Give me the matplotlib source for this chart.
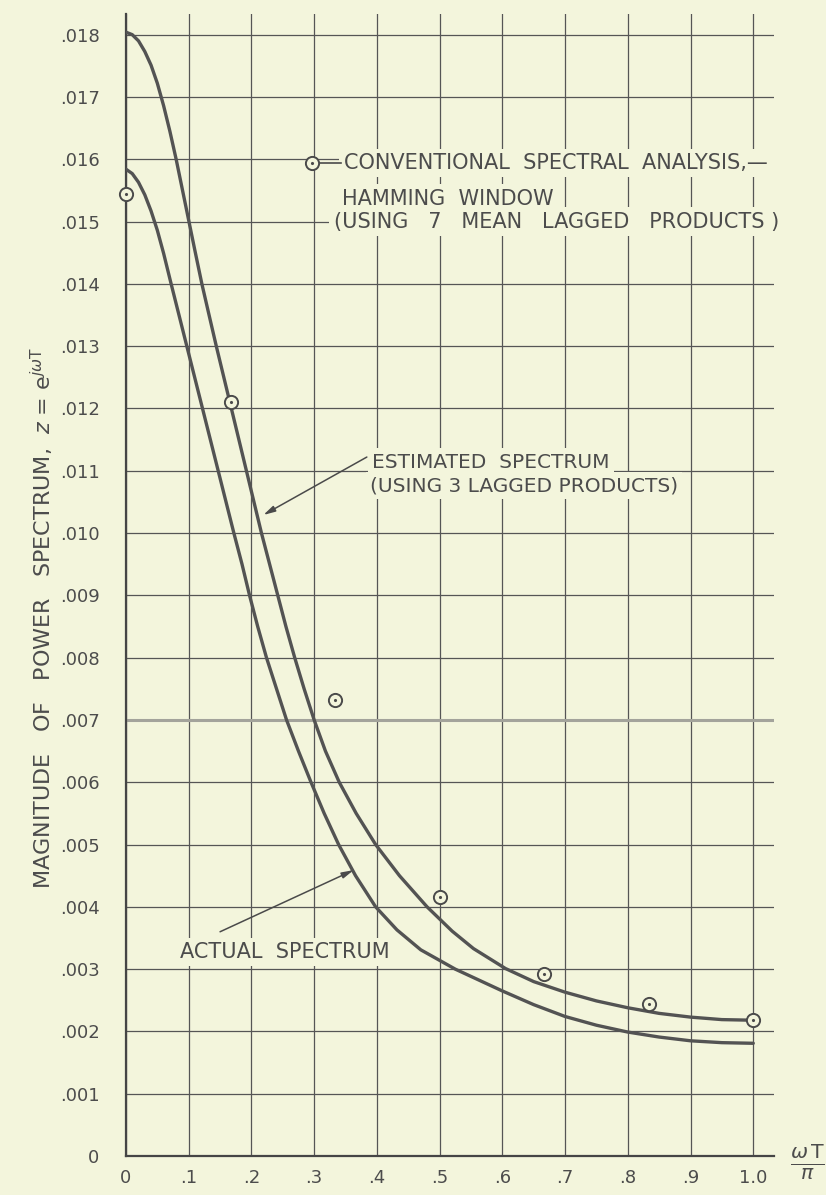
import matplotlib
matplotlib.use("Agg")
import matplotlib.pyplot as plt

# ---------------- data ----------------
est_x = [0.0, 0.01, 0.02, 0.03, 0.04, 0.05, 0.06, 0.07, 0.08, 0.09, 0.10, 0.11,
         0.121, 0.132, 0.144, 0.156, 0.168, 0.180, 0.192, 0.204, 0.216, 0.229,
         0.242, 0.255, 0.269, 0.284, 0.300, 0.318, 0.340, 0.367, 0.398, 0.436,
         0.480, 0.520, 0.554, 0.605, 0.65, 0.70, 0.75, 0.80, 0.85, 0.90, 0.95, 1.00]
est_y = [0.01804, 0.01800, 0.01790, 0.01773, 0.01751, 0.01722, 0.01686, 0.01645,
         0.01600, 0.01551, 0.01502, 0.01453, 0.01400, 0.01352, 0.01300, 0.01250,
         0.01200, 0.01150, 0.01100, 0.01050, 0.01000, 0.00950, 0.00900, 0.00850,
         0.00800, 0.00750, 0.00700, 0.00650, 0.00600, 0.00550, 0.00500, 0.00450,
         0.00400, 0.00361, 0.00333, 0.00301, 0.00280, 0.00263, 0.00249, 0.00238,
         0.00229, 0.00223, 0.00219, 0.00218]

act_x = [0.0, 0.01, 0.02, 0.03, 0.04, 0.05, 0.06, 0.072, 0.085, 0.097, 0.110,
         0.122, 0.135, 0.147, 0.160, 0.172, 0.185, 0.197, 0.210, 0.224, 0.240,
         0.256, 0.275, 0.295, 0.316, 0.339, 0.366, 0.398, 0.432, 0.470, 0.525,
         0.60, 0.65, 0.70, 0.75, 0.80, 0.85, 0.90, 0.95, 1.00]
act_y = [0.01584, 0.01577, 0.01563, 0.01543, 0.01517, 0.01486, 0.01449, 0.01400,
         0.01348, 0.01300, 0.01248, 0.01200, 0.01148, 0.01100, 0.01048, 0.01000,
         0.00950, 0.00900, 0.00850, 0.00800, 0.00750, 0.00700, 0.00650, 0.00600,
         0.00550, 0.00500, 0.00450, 0.00400, 0.00363, 0.00331, 0.00300, 0.00265,
         0.00243, 0.00224, 0.00210, 0.00199, 0.00191, 0.00185, 0.00182, 0.00181]

conv_x = [0.0, 1/6, 2/6, 3/6, 4/6, 5/6, 1.0]
conv_y = [0.01544, 0.0121, 0.00732, 0.00416, 0.00292, 0.00244, 0.00218]

x_ticks = [0.0, 0.1, 0.2, 0.3, 0.4, 0.5, 0.6, 0.7, 0.8, 0.9, 1.0]
x_tick_labels = ["0", ".1", ".2", ".3", ".4", ".5", ".6", ".7", ".8", ".9", "1.0"]
y_ticks = [i / 1000 for i in range(0, 19)]
y_tick_labels = ["0"] + [".%03d" % i for i in range(1, 19)]

# ---------------- style ----------------
BG = "#f3f5dc"
INK = "#4c4c4c"
GRID = "#555555"

plt.rcParams["font.family"] = ["DejaVu Sans"]
fig = plt.figure(figsize=(8.26, 11.95), dpi=100, facecolor=BG)
ax = fig.add_axes([0.1525, 0.0326, 0.7845, 0.9556])
ax.set_facecolor(BG)

ax.set_xlim(0, 1.033)
ax.set_ylim(0, 0.01833)
ax.set_xticks(x_ticks)
ax.set_xticklabels(x_tick_labels)
ax.set_yticks(y_ticks)
ax.set_yticklabels(y_tick_labels)
ax.tick_params(axis="both", length=0, labelsize=13, labelcolor=INK)
ax.tick_params(axis="y", pad=19)
ax.tick_params(axis="x", pad=9)
ax.set_axisbelow(True)
ax.grid(True, color=GRID, lw=0.9)
for s in ["top", "right"]:
    ax.spines[s].set_visible(False)
for s in ["left", "bottom"]:
    ax.spines[s].set_color("#454545")
    ax.spines[s].set_linewidth(1.6)

# lighter, heavier .007 line as in the original sheet
ax.axhline(0.007, color="#a3a39b", lw=2.2, zorder=1)

# curves
ax.plot(est_x, est_y, color="#535353", lw=2.4, zorder=4,
        solid_capstyle="round", solid_joinstyle="round")
ax.plot(act_x, act_y, color="#535353", lw=2.4, zorder=4,
        solid_capstyle="round", solid_joinstyle="round")
ax.plot(conv_x, conv_y, linestyle="none", marker="o", ms=9.5, mfc=BG,
        mec="#4a4a4a", mew=1.4, zorder=5, clip_on=False)
ax.plot(conv_x, conv_y, linestyle="none", marker=".", ms=2.5, color="#4a4a4a",
        zorder=6, clip_on=False)

# text annotations
box = dict(facecolor=BG, edgecolor="none", pad=3)
tkw = dict(color=INK, va="center", ha="left", zorder=3, bbox=box)
ax.text(0.347, 0.01594, "CONVENTIONAL  SPECTRAL  ANALYSIS,\u2014 ", fontsize=15, **tkw)
ax.text(0.345, 0.01537, "HAMMING  WINDOW", fontsize=15, **tkw)
ax.text(0.331, 0.01500, "(USING   7   MEAN   LAGGED   PRODUCTS )", fontsize=15, **tkw)
# legend marker with dash
ax.plot([0.297, 0.342], [0.01594, 0.01594], color="#4a4a4a", lw=1.2, zorder=4)
ax.plot([0.297], [0.01594], marker="o", ms=9.5, mfc=BG, mec="#4a4a4a", mew=1.4, zorder=5)
ax.plot([0.297], [0.01594], marker=".", ms=2.5, color="#4a4a4a", zorder=6)

ax.text(0.393, 0.01114, "ESTIMATED  SPECTRUM", fontsize=14.5, **tkw)
ax.text(0.389, 0.01076, "(USING 3 LAGGED PRODUCTS)", fontsize=14.5, **tkw)
ax.annotate("", xy=(0.219, 0.01029), xytext=(0.384, 0.01122),
            arrowprops=dict(arrowstyle="-|>,head_length=0.7,head_width=0.18",
                            color="#4a4a4a", lw=1.1, shrinkA=0, shrinkB=0), zorder=5)

ax.text(0.086, 0.00328, "ACTUAL  SPECTRUM", fontsize=15, **tkw)
ax.annotate("", xy=(0.363, 0.00459), xytext=(0.150, 0.00360),
            arrowprops=dict(arrowstyle="-|>,head_length=0.7,head_width=0.18",
                            color="#4a4a4a", lw=1.1, shrinkA=0, shrinkB=0), zorder=5)

# axis labels
fig.text(42 / 826, 1 - 618 / 1195,
         r"MAGNITUDE   OF   POWER   SPECTRUM,  $z$ = $\mathrm{e}^{j\omega \mathrm{T}}$",
         rotation=90, fontsize=16, color=INK, ha="center", va="center")
fig.text(808 / 826, 1 - 1162 / 1195, r"$\frac{\omega\,\mathrm{T}}{\pi}$",
         fontsize=21, color=INK, ha="center", va="center")

fig.savefig("out.png", dpi=100, facecolor=BG)
